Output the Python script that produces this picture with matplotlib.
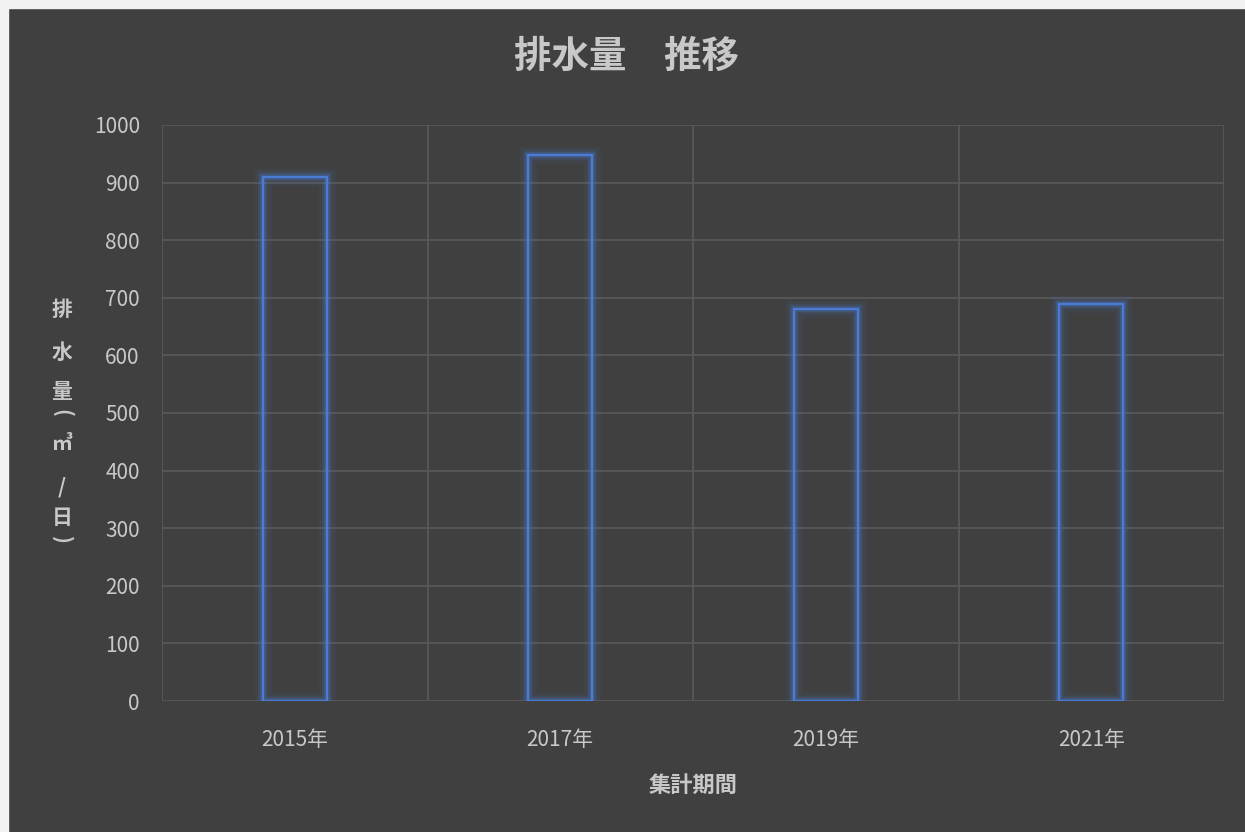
import matplotlib
matplotlib.use("Agg")
import matplotlib.pyplot as plt
import matplotlib.patheffects as pe
from matplotlib.patches import Rectangle

plt.rcParams['font.family'] = ['Noto Sans CJK JP', 'DejaVu Sans']

categories = ['2015年', '2017年', '2019年', '2021年']
values = [910, 948, 680, 690]
yticks = [0, 100, 200, 300, 400, 500, 600, 700, 800, 900, 1000]
title = '排水量　推移'
xlabel = '集計期間'
ylabel_chars = ['排', '水', '量', '(', '㎥', '/', '日', ')']

BG = '#404040'
GRID = '#5a5a5a'
TXT = '#c8c8c8'
BLUE = '#4a7bd6'

fig = plt.figure(figsize=(12.45, 8.32), dpi=100, facecolor=BG)
ax = fig.add_axes([162/1245, 1-701/832, (1224-162)/1245, (701-125)/832])
ax.set_facecolor(BG)

x = list(range(len(categories)))
bars = ax.bar(x, values, width=0.24, facecolor='none', edgecolor=BLUE, linewidth=1.6, zorder=3)
for b in bars:
    b.set_path_effects([pe.Stroke(linewidth=12, foreground=BLUE, alpha=0.08),
                        pe.Stroke(linewidth=7, foreground=BLUE, alpha=0.15),
                        pe.Stroke(linewidth=4, foreground=BLUE, alpha=0.3),
                        pe.Normal()])

ax.set_xlim(-0.5, len(categories) - 0.5)
ax.set_ylim(0, 1000)
ax.set_yticks(yticks)
ax.set_yticklabels([str(v) for v in yticks], fontsize=15, color=TXT)
ax.set_xticks(x)
ax.set_xticklabels(categories, fontsize=15, color=TXT)
ax.set_xticks([i - 0.5 for i in range(len(categories) + 1)], minor=True)
ax.tick_params(axis='both', which='both', length=0)
ax.tick_params(axis='y', pad=16)
ax.tick_params(axis='x', pad=20)
ax.grid(axis='y', which='major', color=GRID, linewidth=1.2, zorder=0)
ax.grid(axis='x', which='minor', color=GRID, linewidth=1.2, zorder=0)
ax.grid(axis='x', which='major', visible=False)
for s in ['top', 'bottom', 'left', 'right']:
    ax.spines[s].set_visible(False)

fig.text(626/1245, 1-56/832, title, ha='center', va='center', fontsize=27, fontweight='bold', color=TXT)
fig.text(693/1245, 1-785/832, xlabel, ha='center', va='center', fontsize=16, fontweight='bold', color=TXT)

ys = [310, 352, 392, 413, 443, 487, 518, 540]
for ch, yy in zip(ylabel_chars, ys):
    rot = -90 if ch in '()' else 0
    fig.text(62/1245, 1-yy/832, ch, ha='center', va='center', fontsize=15, fontweight='bold',
             color=TXT, rotation=rot, rotation_mode='anchor')

# light border strips (top and left)
fig.patches.append(Rectangle((0, 1-8/832), 1, 8/832, transform=fig.transFigure, color='#f2f2f2', zorder=10))
fig.patches.append(Rectangle((0, 0), 8/1245, 1, transform=fig.transFigure, color='#f2f2f2', zorder=10))

fig.savefig('out.png', dpi=100, facecolor=BG)
